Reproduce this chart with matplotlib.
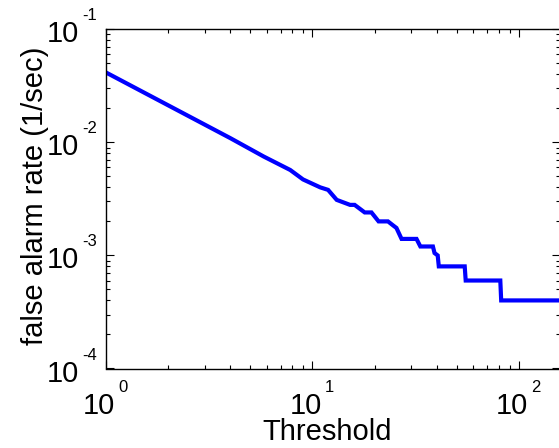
import matplotlib
matplotlib.use("Agg")
import matplotlib.pyplot as plt
from matplotlib.ticker import LogLocator, FixedLocator
from matplotlib.transforms import offset_copy

# curve vertices (threshold, false alarm rate)
threshold = [1.0, 4.0, 5.8, 7.0, 7.8, 9.0, 10.9, 11.9, 13.1, 15.2,
             16.0, 17.9, 19.3, 20.9, 23.2, 24.5, 25.5, 27.0, 31.9, 33.3,
             38.3, 39.0, 40.4, 40.9, 54.6, 55.2, 81.2, 82.0, 160.0]
rate = [0.0415, 0.0109, 0.0075, 0.0063, 0.0057, 0.0047, 0.0040, 0.0038, 0.0031, 0.0028,
        0.0028, 0.0024, 0.0024, 0.0020, 0.0020, 0.00185, 0.00175, 0.0014, 0.0014, 0.0012,
        0.0012, 0.00105, 0.0010, 0.0008, 0.0008, 0.0006, 0.0006, 0.0004, 0.0004]

x_decades = [0, 1, 2]
y_decades = [-4, -3, -2, -1]

plt.rcParams["font.family"] = ["Liberation Sans", "DejaVu Sans"]

fig = plt.figure(figsize=(5.59, 4.48), dpi=100)
ax = fig.add_axes([106 / 559, 79.5 / 448, 454 / 559, 339.2 / 448])

ax.loglog(threshold, rate, color="#0000ff", linewidth=3.0, solid_joinstyle="miter")

ax.set_xlim(1, 158)
ax.set_ylim(1e-4, 1e-1)

ax.xaxis.set_major_locator(FixedLocator([10.0 ** d for d in x_decades]))
ax.yaxis.set_major_locator(FixedLocator([10.0 ** d for d in y_decades]))
ax.xaxis.set_minor_locator(LogLocator(base=10, subs=range(2, 10), numticks=20))
ax.yaxis.set_minor_locator(LogLocator(base=10, subs=range(2, 10), numticks=20))

ax.tick_params(which="both", direction="in", top=True, right=True, width=0.8,
               labelbottom=False, labelleft=False)
ax.tick_params(which="major", length=6)
ax.tick_params(which="minor", length=3)
for s in ax.spines.values():
    s.set_linewidth(1.0)

# MATLAB-style "10" with a small raised exponent
base_size = 21
exp_size = 12
ytr = ax.get_yaxis_transform()
xtr = ax.get_xaxis_transform()
for d in y_decades:
    v = 10.0 ** d
    ax.text(0, v, "10", fontsize=base_size, ha="right", va="baseline",
            transform=offset_copy(ytr, fig=fig, x=-27, y=-13, units="dots"))
    ax.text(0, v, str(d), fontsize=exp_size, ha="left", va="baseline",
            transform=offset_copy(ytr, fig=fig, x=-24, y=9, units="dots"))
for d in x_decades:
    v = 10.0 ** d
    ax.text(v, 0, "10", fontsize=base_size, ha="center", va="baseline",
            transform=offset_copy(xtr, fig=fig, x=-7, y=-45.5, units="dots"))
    ax.text(v, 0, str(d), fontsize=exp_size, ha="left", va="baseline",
            transform=offset_copy(xtr, fig=fig, x=12, y=-23.5, units="dots"))

fig.text(327.5 / 559, (448 - 440) / 448, "Threshold", fontsize=21,
         ha="center", va="baseline")
fig.text(43 / 559, (448 - 196) / 448, "false alarm rate (1/sec)", fontsize=21,
         rotation=90, rotation_mode="anchor", ha="center", va="baseline")

fig.savefig("out.png", dpi=100)
